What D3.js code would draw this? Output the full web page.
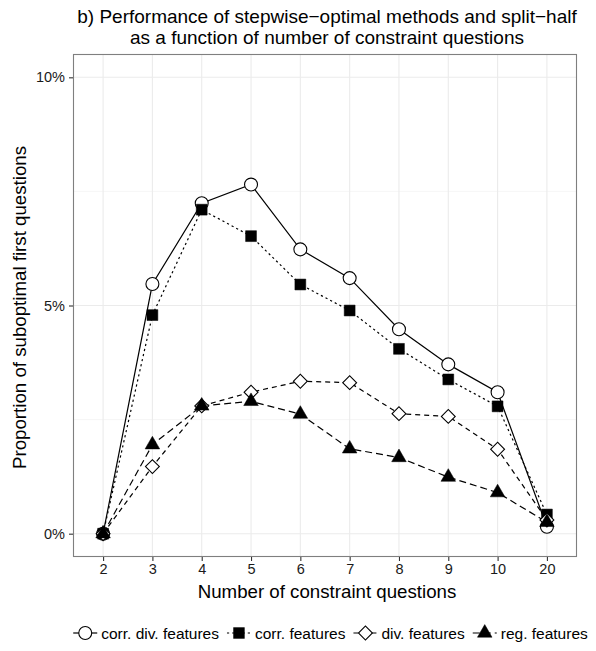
<!DOCTYPE html>
<html>
<head>
<meta charset="utf-8">
<script src="https://cdn.jsdelivr.net/npm/d3@7/dist/d3.min.js"></script>
<style>
  html, body { margin: 0; padding: 0; background: #fff; }
  svg { display: block; font-family: "Liberation Sans", Arial, Helvetica, sans-serif; }
</style>
</head>
<body>
<svg id="chart" width="596" height="651"></svg>
<script>
// Number of constraint questions (discrete categories)
const categories = ["2", "3", "4", "5", "6", "7", "8", "9", "10", "20"];

// Proportion of suboptimal first questions, in percent
const corrDivFeatures = [0, 5.47, 7.24, 7.65, 6.23, 5.60, 4.48, 3.71, 3.10, 0.15];
const corrFeatures    = [0, 4.79, 7.10, 6.52, 5.46, 4.89, 4.05, 3.38, 2.79, 0.42];
const divFeatures     = [0, 1.47, 2.80, 3.10, 3.34, 3.31, 2.63, 2.57, 1.85, 0.30];
const regFeatures     = [0, 1.95, 2.80, 2.90, 2.62, 1.86, 1.67, 1.24, 0.90, 0.25];

const seriesNames = ["corr. div. features", "corr. features", "div. features", "reg. features"];
const yTicks = [0, 5, 10];
const yMinorTicks = [2.5, 7.5];

const titleLines = [
  "b) Performance of stepwise\u2212optimal methods and split\u2212half",
  "as a function of number of constraint questions"
];
const xTitle = "Number of constraint questions";
const yTitle = "Proportion of suboptimal first questions";

const series = [
  { name: seriesNames[0], values: corrDivFeatures, shape: "circle",   fill: "#fff",  dash: null },
  { name: seriesNames[1], values: corrFeatures,    shape: "square",   fill: "#000",  dash: "2.2,3" },
  { name: seriesNames[2], values: divFeatures,     shape: "diamond",  fill: "#fff",  dash: "5,4" },
  { name: seriesNames[3], values: regFeatures,     shape: "triangle", fill: "#000",  dash: "7,4" }
];

const svg = d3.select("#chart");
const panel = { left: 73.5, right: 576.5, top: 54.5, bottom: 556.5 };

// Discrete x positions with 0.6 category of padding at each end
const x = d3.scalePoint().domain(categories)
  .range([panel.left, panel.right]).padding(0.6);
const y = d3.scaleLinear().domain([-0.5, 10.5]).range([panel.bottom, panel.top]);

// Panel background and grid
const g = svg.append("g");
g.append("rect")
  .attr("x", panel.left).attr("y", panel.top)
  .attr("width", panel.right - panel.left).attr("height", panel.bottom - panel.top)
  .attr("fill", "#fff");

g.selectAll(".yminor").data(yMinorTicks).enter().append("line")
  .attr("x1", panel.left).attr("x2", panel.right)
  .attr("y1", d => y(d)).attr("y2", d => y(d))
  .attr("stroke", "#f0f0f0").attr("stroke-width", 0.6);

g.selectAll(".ymajor").data(yTicks).enter().append("line")
  .attr("x1", panel.left).attr("x2", panel.right)
  .attr("y1", d => y(d)).attr("y2", d => y(d))
  .attr("stroke", "#ebebeb").attr("stroke-width", 1.1);

g.selectAll(".xmajor").data(categories).enter().append("line")
  .attr("x1", d => x(d)).attr("x2", d => x(d))
  .attr("y1", panel.top).attr("y2", panel.bottom)
  .attr("stroke", "#ebebeb").attr("stroke-width", 1.1);

// Series lines
const line = d3.line()
  .x((d, i) => x(categories[i]))
  .y(d => y(d));

series.forEach(s => {
  g.append("path")
    .datum(s.values)
    .attr("d", line)
    .attr("fill", "none")
    .attr("stroke", "#000")
    .attr("stroke-width", 1.2)
    .attr("stroke-dasharray", s.dash);
});

// Point symbols
function symbolPath(shape) {
  if (shape === "circle") return d3.symbol().type(d3.symbolCircle).size(132)();
  if (shape === "square") return d3.symbol().type(d3.symbolSquare).size(118)();
  if (shape === "diamond") return d3.symbol().type(d3.symbolSquare).size(96)();
  return d3.symbol().type(d3.symbolTriangle).size(92)();
}
function drawSymbol(sel, s, cx, cy) {
  sel.append("path")
    .attr("d", symbolPath(s.shape))
    .attr("transform", `translate(${cx},${cy})` + (s.shape === "diamond" ? " rotate(45)" : ""))
    .attr("fill", s.fill)
    .attr("stroke", "#000")
    .attr("stroke-width", s.fill === "#fff" ? 1.1 : 0.5);
}

series.forEach(s => {
  s.values.forEach((v, i) => drawSymbol(g, s, x(categories[i]), y(v)));
});

// Panel border
g.append("rect")
  .attr("x", panel.left).attr("y", panel.top)
  .attr("width", panel.right - panel.left).attr("height", panel.bottom - panel.top)
  .attr("fill", "none").attr("stroke", "#7f7f7f").attr("stroke-width", 1.1);

// Axes
const yAxis = d3.axisLeft(y).tickValues(yTicks).tickSize(4).tickPadding(4)
  .tickFormat(d => d + "%");
const yG = svg.append("g").attr("transform", `translate(${panel.left - 0.5},0)`).call(yAxis);
yG.select(".domain").remove();
yG.selectAll(".tick line").attr("stroke", "#333").attr("stroke-width", 1.1);
yG.selectAll(".tick text").attr("font-size", 14.5).attr("fill", "#1a1a1a")
  .attr("font-family", "Liberation Sans, Arial, sans-serif");

const xAxis = d3.axisBottom(x).tickSize(4).tickPadding(3);
const xG = svg.append("g").attr("transform", `translate(0,${panel.bottom + 0.5})`).call(xAxis);
xG.select(".domain").remove();
xG.selectAll(".tick line").attr("stroke", "#333").attr("stroke-width", 1.1);
xG.selectAll(".tick text").attr("font-size", 14.5).attr("fill", "#1a1a1a")
  .attr("font-family", "Liberation Sans, Arial, sans-serif");

// Titles
const cx = (panel.left + panel.right) / 2;
svg.selectAll(".title").data(titleLines).enter().append("text")
  .attr("x", cx + 2).attr("y", (d, i) => 23 + i * 21)
  .attr("text-anchor", "middle").attr("font-size", 19).attr("fill", "#000")
  .text(d => d);

svg.append("text")
  .attr("x", cx + 2).attr("y", 598)
  .attr("text-anchor", "middle").attr("font-size", 18.7).attr("fill", "#000")
  .text(xTitle);

svg.append("text")
  .attr("transform", `translate(26,${(panel.top + panel.bottom) / 2 + 2}) rotate(-90)`)
  .attr("text-anchor", "middle").attr("font-size", 18.7).attr("fill", "#000")
  .text(yTitle);

// Legend: key glyph (line + symbol) followed by label, laid out left to right
const legend = svg.append("g");
const legendY = 633;
const keyW = 26, keyGap = 3, itemGap = 7;
let cursor = 0;
series.forEach(s => {
  const item = legend.append("g");
  const kx = cursor + keyW / 2;
  item.append("line")
    .attr("x1", cursor + 1).attr("x2", cursor + keyW - 1)
    .attr("y1", legendY).attr("y2", legendY)
    .attr("stroke", "#000").attr("stroke-width", 1.2)
    .attr("stroke-dasharray", s.dash);
  drawSymbol(item, s, kx, legendY);
  const t = item.append("text")
    .attr("x", cursor + keyW + keyGap).attr("y", legendY + 5.5)
    .attr("font-size", 15.5).attr("fill", "#000")
    .text(s.name);
  cursor += keyW + keyGap + t.node().getComputedTextLength() + itemGap;
});
const legendWidth = cursor - itemGap;
legend.attr("transform", `translate(${330 - legendWidth / 2},0)`);
</script>
</body>
</html>
